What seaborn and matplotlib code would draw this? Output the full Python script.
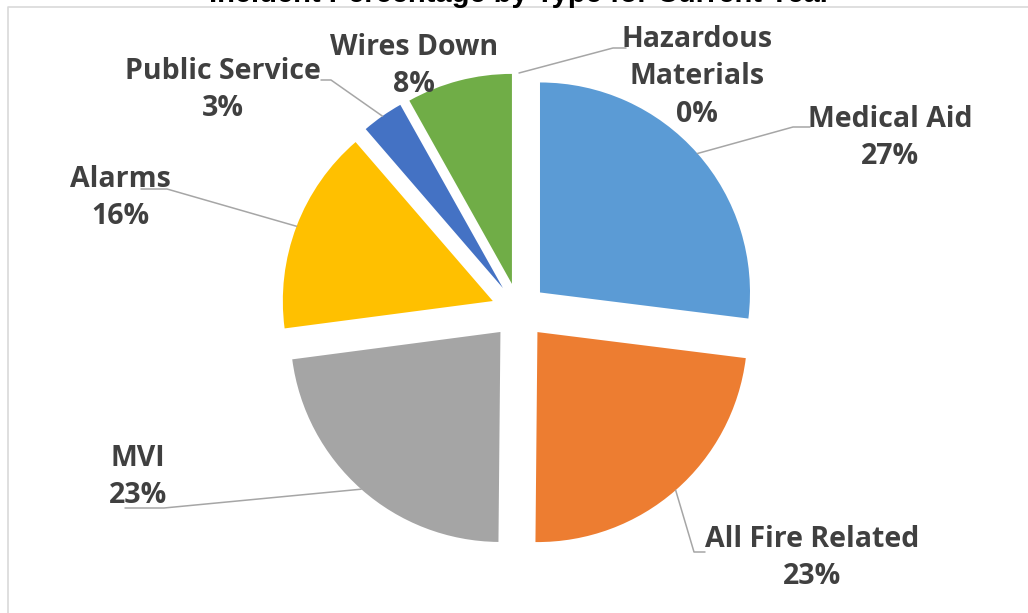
import math
import matplotlib
matplotlib.use("Agg")
import matplotlib.pyplot as plt
import seaborn as sns

# incident share by type, clockwise from 12 o'clock
categories = ["Medical Aid", "All Fire Related", "MVI", "Alarms",
              "Public Service", "Wires Down", "Hazardous\nMaterials"]
values = [26.9, 23.1, 22.7, 15.7, 3.2, 8.1, 0.0]
colors = ["#5B9BD5", "#ED7D31", "#A5A5A5", "#FFC000",
          "#4472C4", "#70AD47", "#255E91"]
title = "Incident Percentage by Type for Current Year"

# label placement (pixel coords from top-left): text centre, leader elbow, leader end
label_pos = [(890, 138), (812, 558), (138, 477), (120, 198), (223, 90), (414, 66), (697, 77)]
elbow_pos = [(793, 127), (694, 552), (164, 508), (167, 189), (331, 80), None, (613, 48)]
elbow_end = [(810, 127), (705, 552), (125, 508), (141, 189), (321, 80), None, (626, 48)]

sns.set_theme(style="white")
plt.rcParams["font.family"] = ["Open Sans", "DejaVu Sans"]

W, H = 1028, 613
fig = plt.figure(figsize=(W / 100, H / 100), dpi=100)
ax = fig.add_axes([0, 0, 1, 1])

wedges, _ = ax.pie(values, colors=colors, startangle=90, counterclock=False,
                   explode=[28] * len(values), radius=210, center=(519, H - 311),
                   wedgeprops=dict(linewidth=0))
ax.set_xlim(0, W)
ax.set_ylim(0, H)
ax.set_aspect("equal")
ax.axis("off")

# chart frame
ax.plot([8, 8, W + 5], [-5, H - 7, H - 7], color="#D9D9D9", lw=1.2, clip_on=False)

line_col = "#A6A6A6"
for w, name, v, tp, el, ee in zip(wedges, categories, values, label_pos, elbow_pos, elbow_end):
    ax.text(tp[0], H - tp[1], f"{name}\n{round(v):.0f}%", ha="center", va="center",
            fontsize=20.5, fontweight="bold", color="#404040", linespacing=1.38)
    if el is None:
        continue
    th = math.radians((w.theta1 + w.theta2) / 2)
    px = w.center[0] + w.r * math.cos(th)
    py = w.center[1] + w.r * math.sin(th)
    ax.plot([px, el[0], ee[0]], [py, H - el[1], H - ee[1]], color=line_col, lw=1.1)

ax.text(W / 2 + 6, H - 2, title, ha="center", va="baseline", fontsize=21,
        fontweight="bold", color="black", family=["Liberation Sans", "DejaVu Sans"])

fig.savefig("out.png", dpi=100)
